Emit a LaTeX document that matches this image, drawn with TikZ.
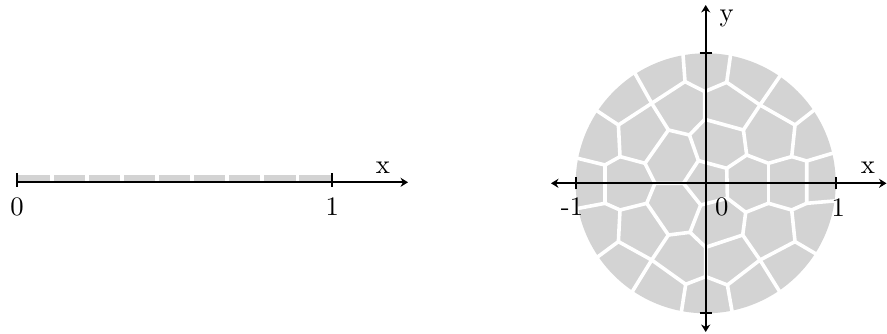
\documentclass[tikz,border=0pt]{standalone}
\usetikzlibrary{arrows.meta}

\definecolor{cellgray}{RGB}{211,211,211}
\tikzset{
  axis/.style={black, line width=0.75pt},
  tipend/.style={-{Stealth[length=2.8pt,width=3.4pt]}},
  tipboth/.style={{Stealth[length=2.8pt,width=3.4pt]}-{Stealth[length=2.8pt,width=3.4pt]}},
  cellline/.style={white, line width=1.35pt, line join=round},
}

\begin{document}
\begin{tikzpicture}[x=0.375pt, y=0.375pt]
\useasboundingbox (0,0) rectangle (887,333);

% 区间 [0,1]
\fill[cellgray] (16.7,150.7) rectangle (332.3,158);
\foreach \k in {1,...,8}
  \draw[white, line width=1.3pt] ({16.7+35.07*\k},150.2) -- ++(0,8.5);
\draw[axis, tipend] (16.7,150.7) -- (408,150.7);
\draw[axis] (16.7,146.3) -- (16.7,159.7);
\draw[axis] (332.3,146.3) -- (332.3,159.7);
\node (zeroA) at (17,126) {0};
\node (oneA) at (332.3,126) {1};
\node (xA) at (383,165) {x};

% 圆盘
\begin{scope}[shift={(705.7,149.7)}]
\fill[cellgray] (0,0) circle[radius=130];

\foreach \n/\a in {1/99.9, 2/122.7, 3/146.3, 4/168.9, 5/191.1, 6/214.3, 7/235.9, 8/259.3,
                   9/281.6, 10/304.3, 11/327.4, 12/352.5, 13/13.4, 14/34.1, 15/55.3, 16/79.1}
  \coordinate (p\n) at (\a:133);

\coordinate (a1) at (-20.7,101.7);
\coordinate (b0) at (21,101);
\coordinate (a11) at (-1,91.7);
\coordinate (a2) at (-54,80);
\coordinate (a3) at (-87.3,58.3);
\coordinate (a4) at (-37.3,53.3);
\coordinate (a5) at (-16.3,48.3);
\coordinate (a10) at (-1,64);
\coordinate (a6) at (-85.7,26.7);
\coordinate (a7) at (-100.7,18.3);
\coordinate (a8) at (-60.7,20);
\coordinate (a9) at (-7.3,22.7);
\coordinate (q1) at (-50.7,0);
\coordinate (q2) at (-22.3,0);
\coordinate (b7) at (21,15);
\coordinate (b6) at (41,28.3);
\coordinate (b2) at (37.7,53.3);
\coordinate (b1) at (54.3,78.3);
\coordinate (b3) at (89.3,58.3);
\coordinate (b4) at (86,26.7);
\coordinate (b5) at (62.7,20);
\coordinate (b8) at (101,22.3);
\coordinate (c1) at (-100.7,-20);
\coordinate (c2) at (-85.7,-26.7);
\coordinate (c3) at (-59,-20);
\coordinate (c4) at (-37.3,-51.7);
\coordinate (c5) at (-87.3,-58.3);
\coordinate (c6) at (-54,-76.7);
\coordinate (a12) at (-5,-21.7);
\coordinate (a13) at (-15.7,-49);
\coordinate (a14) at (21.7,-15);
\coordinate (a15) at (40,-29);
\coordinate (a16) at (62.7,-20);
\coordinate (a17) at (86,-26.7);
\coordinate (a18) at (101,-20);
\coordinate (a19) at (89.3,-58.3);
\coordinate (a20) at (54.3,-76.7);
\coordinate (a21) at (37,-51.7);
\coordinate (a22) at (21.7,-101.7);
\coordinate (a23) at (-20,-101);
\coordinate (a24) at (0,-64);
\coordinate (a25) at (0,-93.3);

% 单元边界
\draw[cellline] (p1) -- (a1) -- (a2) -- (p2);
\draw[cellline] (a1) -- (a11) -- (b0) -- (p16);
\draw[cellline] (a11) -- (a10) -- (a5) -- (a4) -- (a2) -- (a3) -- (p3);
\draw[cellline] (a3) -- (a6) -- (a7) -- (p4);
\draw[cellline] (a6) -- (a8) -- (a4);
\draw[cellline] (a8) -- (q1) -- (q2) -- (a9) -- (a5);
\draw[cellline] (a9) -- (b7) -- (b6) -- (b2) -- (a10);
\draw[cellline] (b0) -- (b1) -- (p15);
\draw[cellline] (b1) -- (b2);
\draw[cellline] (b1) -- (b3) -- (p14);
\draw[cellline] (b3) -- (b4) -- (b8) -- (p13);
\draw[cellline] (b4) -- (b5) -- (b6);
\draw[cellline] (p5) -- (c1) -- (a7);
\draw[cellline] (b7) -- (a14);
\draw[cellline] (b5) -- (a16);
\draw[cellline] (b8) -- (a18) -- (p12);
\draw[cellline] (c1) -- (c2) -- (c3) -- (q1);
\draw[cellline] (c2) -- (c5) -- (p6);
\draw[cellline] (c5) -- (c6) -- (p7);
\draw[cellline] (c3) -- (c4) -- (c6);
\draw[cellline] (c4) -- (a13) -- (a12) -- (q2);
\draw[cellline] (a12) -- (a14) -- (a15) -- (a16) -- (a17) -- (a18);
\draw[cellline] (a13) -- (a24) -- (a21) -- (a15);
\draw[cellline] (a24) -- (a25) -- (a23) -- (c6);
\draw[cellline] (a23) -- (p8);
\draw[cellline] (a25) -- (a22) -- (p9);
\draw[cellline] (a22) -- (a20) -- (p10);
\draw[cellline] (a20) -- (a21);
\draw[cellline] (a17) -- (a19) -- (p11);
\draw[cellline] (a19) -- (a20);

% 坐标轴
\draw[axis, tipboth] (-154.7,0) -- (180.8,0);
\draw[axis, tipboth] (0,-148.7) -- (0,178.3);
\draw[axis] (-130,-6) -- (-130,6);
\draw[axis] (130,-6) -- (130,6);
\draw[axis] (-6,130) -- (6,130);
\draw[axis] (-6,-130) -- (6,-130);
\node (moneB) at (-133.7,-23.7) {-1};
\node (zeroB) at (16,-24) {0};
\node (oneB) at (132.6,-24) {1};
\node (xB) at (162.3,15.3) {x};
\node (yB) at (21,165) {y};
\end{scope}

\end{tikzpicture}
\end{document}
